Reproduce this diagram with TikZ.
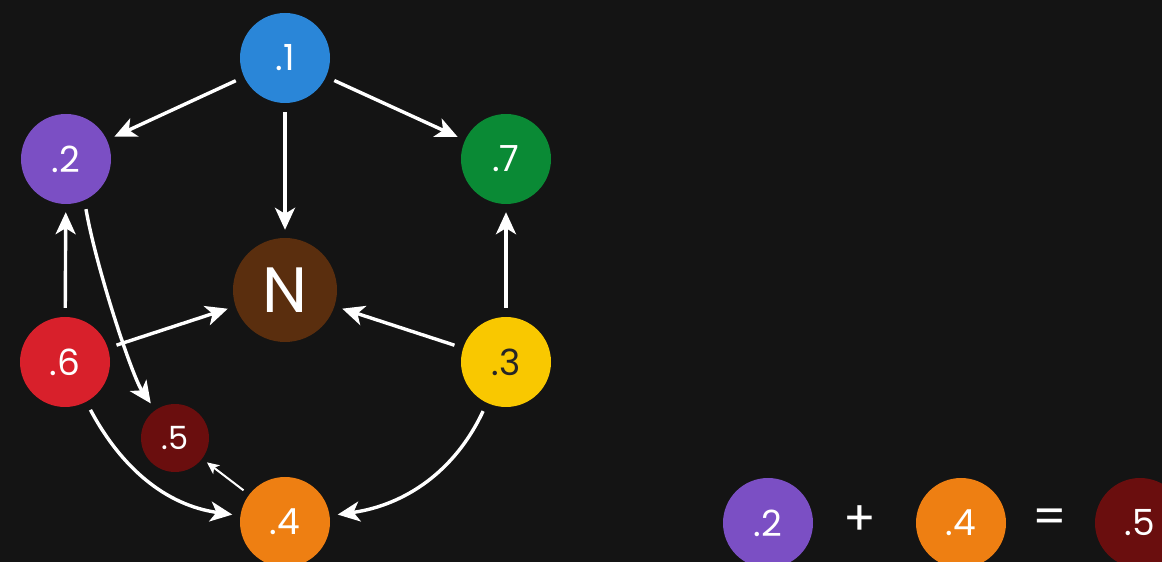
\documentclass[tikz,border=0pt]{standalone}
\usepackage{fontspec}
\setmainfont{Poppins}
\usetikzlibrary{arrows.meta}
\definecolor{bg}{HTML}{141414}
\definecolor{cblue}{HTML}{2A86D8}
\definecolor{cpurple}{HTML}{7B4FC4}
\definecolor{cgreen}{HTML}{0A8A35}
\definecolor{cbrown}{HTML}{5A2E0E}
\definecolor{cred}{HTML}{D8202B}
\definecolor{cyellow}{HTML}{F9C800}
\definecolor{cdark}{HTML}{6A0E0E}
\definecolor{corange}{HTML}{EE7F12}
\begin{document}
\begin{tikzpicture}[x=1pt,y=1pt,
  ball/.style={circle,minimum size=90pt,inner sep=0pt,text=white,font=\fontsize{36}{36}\selectfont},
  small/.style={circle,minimum size=68pt,inner sep=0pt,text=white,font=\fontsize{32}{32}\selectfont},
  big/.style={circle,minimum size=104pt,inner sep=0pt,text=white,font=\fontsize{64}{64}\selectfont},
  sym/.style={text=white,inner sep=0pt,font=\fontsize{48}{48}\selectfont},
  arr/.style={white,line width=3.4pt,-{Stealth[length=22pt,width=20pt,inset=6pt]},shorten <=9pt,shorten >=8pt},
  thin/.style={white,line width=2pt,-{Stealth[length=12pt,width=11pt,inset=3pt]},shorten <=7pt,shorten >=6pt}]
\useasboundingbox (0,0) rectangle (1162,562);
\clip (0,0) rectangle (1162,562);
\fill[bg] (0,0) rectangle (1162,562);
\node[ball,fill=cblue] (n1) at (285,504) {.1};
\node[ball,fill=cpurple] (n2) at (66,403) {.2};
\node[ball,fill=cgreen] (n7) at (506,403) {.7};
\node[big,fill=cbrown] (nN) at (285,272) {N};
\node[ball,fill=cred] (n6) at (65,200) {.6};
\node[ball,fill=cyellow,text=black!85] (n3) at (506,200) {.3};
\node[small,fill=cdark] (n5) at (175,124) {.5};
\node[ball,fill=corange] (n4) at (285,40) {.4};
\node[ball,fill=cpurple] (b2) at (768,39) {.2};
\node[sym] (plus) at (860,41) {+};
\node[ball,fill=corange] (b4) at (961,39) {.4};
\node[sym] (eq) at (1050,41) {=};
\node[ball,fill=cdark] (b5) at (1140,39) {.5};
\draw[arr] (n1) -- (n2);
\draw[arr] (n1) -- (n7);
\draw[arr] (n1) -- (nN);
\draw[arr] (n6) -- (n2);
\draw[arr] (n3) -- (n7);
\draw[arr] (n6) -- (nN);
\draw[arr] (n3) -- (nN);
\draw[arr] (n2.-66) .. controls +(-80:70) and +(125:40) .. (n5.125);
\draw[arr] (n6) to[out=-62,in=172] (n4);
\draw[arr] (n3) to[out=-115,in=8] (n4);
\draw[thin] (n4) -- (n5);
\end{tikzpicture}
\end{document}
